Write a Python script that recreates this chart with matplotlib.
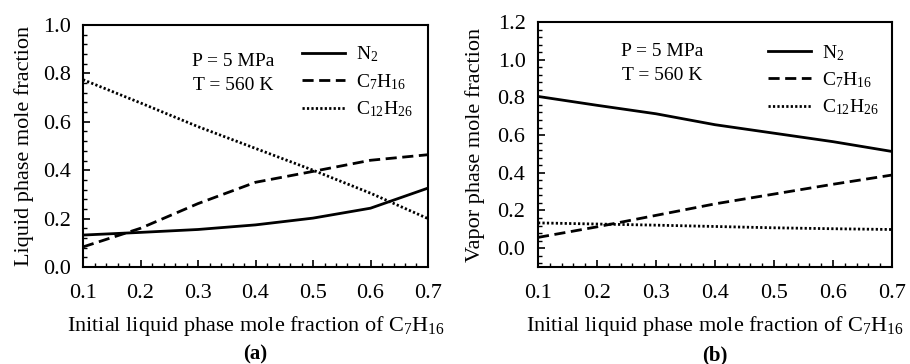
import matplotlib
matplotlib.use('Agg')
from matplotlib import pyplot as plt
from matplotlib.ticker import MultipleLocator

plt.rcParams['font.family'] = ['Liberation Serif', 'DejaVu Serif']
plt.rcParams['mathtext.fontset'] = 'custom'
plt.rcParams['mathtext.rm'] = 'Liberation Serif'

# Initial liquid phase mole fraction of C7H16
x0 = [0.1, 0.2, 0.3, 0.4, 0.5, 0.6, 0.7]

# (a) liquid phase
liq_n2 = [0.132, 0.143, 0.155, 0.174, 0.202, 0.243, 0.326]
liq_c7 = [0.083, 0.160, 0.262, 0.350, 0.395, 0.441, 0.464]
liq_c12 = [0.774, 0.678, 0.580, 0.490, 0.400, 0.305, 0.200]

# (b) vapor phase
vap_n2 = [0.805, 0.758, 0.713, 0.655, 0.610, 0.565, 0.513]
vap_c7 = [0.057, 0.113, 0.174, 0.235, 0.287, 0.339, 0.388]
vap_c12 = [0.134, 0.128, 0.122, 0.115, 0.108, 0.103, 0.099]

names = [r'$\mathregular{N_2}$', r'$\mathregular{C_7H_{16}}$', r'$\mathregular{C_{12}H_{26}}$']
styles = ['-', (0, (4, 2)), (0, (0.8, 0.8))]

fig = plt.figure(figsize=(9.1, 3.64), dpi=100)
ax1 = fig.add_axes([83 / 910, 97 / 364, 345 / 910, 242 / 364])
ax2 = fig.add_axes([538 / 910, 97 / 364, 354 / 910, 245 / 364])


def panel(ax, ys, ylim, ylabel, tag, leg_x, leg_y, txt_x, txt_y):
    for y, name, ls in zip(ys, names, styles):
        ax.plot(x0, y, color='black', lw=2, ls=ls, label=name)
    ax.set_xlim(0.1, 0.7)
    ax.set_ylim(*ylim)
    ax.xaxis.set_major_locator(MultipleLocator(0.1))
    ax.xaxis.set_minor_locator(MultipleLocator(0.02))
    ax.yaxis.set_minor_locator(MultipleLocator(0.04))
    ax.set_yticks([v / 10 for v in range(0, int(round(ylim[1] * 10)) + 1, 2)])
    ax.tick_params(which='both', direction='in', top=False, right=False)
    ax.tick_params(which='major', length=5, width=1.2, labelsize=16)
    ax.tick_params(axis='x', which='major', pad=12)
    ax.tick_params(axis='y', which='major', pad=9)
    ax.tick_params(which='minor', length=3, width=1)
    for s in ax.spines.values():
        s.set_linewidth(1.5)
    ax.set_ylabel(ylabel, fontsize=16)
    ax.set_xlabel(r'Initial liquid phase mole fraction of $\mathregular{C_7H_{16}}$', fontsize=16, labelpad=8)
    ax.text(0.5, -0.32, tag, transform=ax.transAxes, ha='center', va='top', fontsize=15, fontweight='bold')
    ax.text(txt_x, txt_y, 'P = 5 MPa\nT = 560 K', transform=ax.transAxes, ha='center', va='center',
            fontsize=14, linespacing=1.5)
    ax.legend(loc='upper left', bbox_to_anchor=(leg_x, leg_y), frameon=False, fontsize=14,
              handlelength=2.2, handletextpad=0.55, labelspacing=0.4, borderpad=0, borderaxespad=0)


panel(ax1, [liq_n2, liq_c7, liq_c12], (0.0, 1.0), 'Liquid phase mole fraction', '(a)', 0.635, 0.92, 0.435, 0.80)
panel(ax2, [vap_n2, vap_c7, vap_c12], (-0.1, 1.2), 'Vapor phase mole fraction', '(b)', 0.65, 0.915, 0.35, 0.83)
ax1.yaxis.set_label_coords(-0.142, 0.5)
ax2.yaxis.set_label_coords(-0.15, 0.5)

fig.savefig('out.png', dpi=100)
